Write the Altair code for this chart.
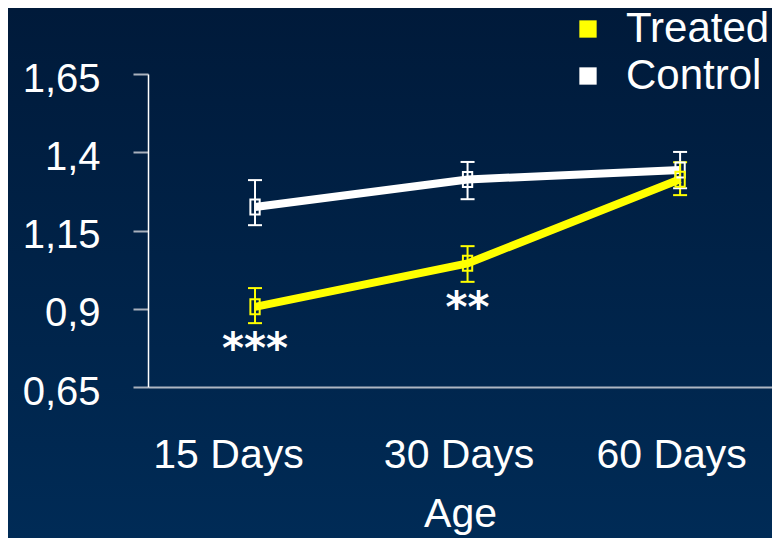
import altair as alt
import pandas as pd

ages = ["15 Days", "30 Days", "60 Days"]
groups = ["Treated", "Control"]
colors = ["#FFFF00", "#FFFFFF"]

treated_mean = [0.906, 1.045, 1.314]
treated_lo = [0.854, 0.986, 1.263]
treated_hi = [0.966, 1.100, 1.368]

control_mean = [1.225, 1.313, 1.343]
control_lo = [1.167, 1.250, 1.285]
control_hi = [1.311, 1.369, 1.401]

stars = ["***", "**", ""]
y_ticks = [0.65, 0.9, 1.15, 1.4, 1.65]

rows = []
for g, m, lo, hi in [("Control", control_mean, control_lo, control_hi),
                     ("Treated", treated_mean, treated_lo, treated_hi)]:
    for i, a in enumerate(ages):
        rows.append({"Age": a, "Group": g, "Series": g, "mean": m[i], "lo": lo[i], "hi": hi[i], "ord": i})
df = pd.DataFrame(rows)
star_df = pd.DataFrame({"Age": ages, "lo": treated_lo, "stars": stars})

FONT = "Liberation Sans"
W, H = 624, 313

xscale = alt.Scale(type="point", domain=ages, padding=0.468, align=0.538)
yscale = alt.Scale(domain=[0.65, 1.65], nice=False, zero=False)

x_axis = alt.Axis(
    title="Age", labelAngle=0, ticks=False, tickSize=0, grid=False, zindex=1,
    labelPadding=48, labelFontSize=41, labelColor="white", labelFont=FONT,
    labelOffset={"condition": {"test": "datum.value === '15 Days'", "value": -27}, "value": -9},
    titleFontSize=41, titleColor="white", titleFont=FONT, titleFontWeight="normal",
    titlePadding=19, domainColor="#AEB6C2", domainWidth=2,
)
y_axis = alt.Axis(
    values=y_ticks, title=None, grid=False, zindex=1,
    labelExpr="replace(format(datum.value, '.2~f'), '.', ',')",
    tickSize=15, tickWidth=2, tickColor="#A9B1BD",
    domainColor="#FFFFFF", domainWidth=1.5,
    labelPadding=33, labelFontSize=40, labelColor="white", labelFont=FONT,
    labelOffset=5,
)

X = alt.X("Age:N", scale=xscale, axis=x_axis, sort=ages)
# stroke scale for the drawn series (no legend); reversed domain so it is not merged with the legend
stroke_enc = alt.Stroke("Series:N",
                        scale=alt.Scale(domain=groups[::-1], range=colors[::-1]),
                        legend=None)
legend = alt.Legend(
    title=None, orient="none", legendX=419, legendY=-66, direction="vertical",
    symbolType="square", symbolSize=300, symbolStrokeWidth=0, zindex=1,
    labelFontSize=42, labelColor="white", labelFont=FONT, labelOffset=17,
    labelLimit=400, rowPadding=5, padding=0,
)
color_enc = alt.Color("Group:N", scale=alt.Scale(domain=groups, range=colors), legend=legend)

bg = alt.Chart(pd.DataFrame({"k": [0]})).mark_rect(
    color=alt.LinearGradient(
        gradient="linear",
        stops=[alt.GradientStop(offset=0, color="#001A3A"),
               alt.GradientStop(offset=1, color="#002B56")],
        x1=0, x2=0, y1=0, y2=1,
    )
).encode(x=alt.value(-140), x2=alt.value(W), y=alt.value(-66), y2=alt.value(H + 151))

base = alt.Chart(df)

lines = base.mark_line(strokeWidth=8, strokeCap="butt").encode(
    x=X, y=alt.Y("mean:Q", scale=yscale, axis=y_axis), stroke=stroke_enc,
    order=alt.Order("ord:Q"),
)
rules = base.mark_rule(strokeWidth=2, opacity=1).encode(
    x=X, y=alt.Y("lo:Q", scale=yscale), y2="hi:Q", stroke=stroke_enc,
)
caps_lo = base.mark_tick(thickness=2, size=14, opacity=1).encode(
    x=X, y=alt.Y("lo:Q", scale=yscale), color=color_enc,
)
caps_hi = base.mark_tick(thickness=2, size=14, opacity=1).encode(
    x=X, y=alt.Y("hi:Q", scale=yscale), color=color_enc,
)
squares = base.mark_point(
    shape="M-0.62,-1H0.62V1H-0.62Z", size=225, filled=False, strokeWidth=2, opacity=1,
).encode(
    x=X, y=alt.Y("mean:Q", scale=yscale), stroke=stroke_enc,
)
star_text = alt.Chart(star_df).mark_text(
    font="DejaVu Sans", fontSize=42, fontWeight="bold", color="white",
    baseline="alphabetic", dy=40, align="center",
).encode(
    x=X, y=alt.Y("lo:Q", scale=yscale), text="stars:N",
)

chart = alt.layer(bg, lines, rules, caps_lo, caps_hi, squares, star_text).properties(
    width=W, height=H,
    autosize=alt.AutoSizeParams(type="none"),
    padding={"left": 140, "top": 66, "right": 0, "bottom": 151},
    background="#00224A",
).configure_view(stroke=None)

chart.save("out.html", embed_options={"renderer": "svg", "actions": False})
